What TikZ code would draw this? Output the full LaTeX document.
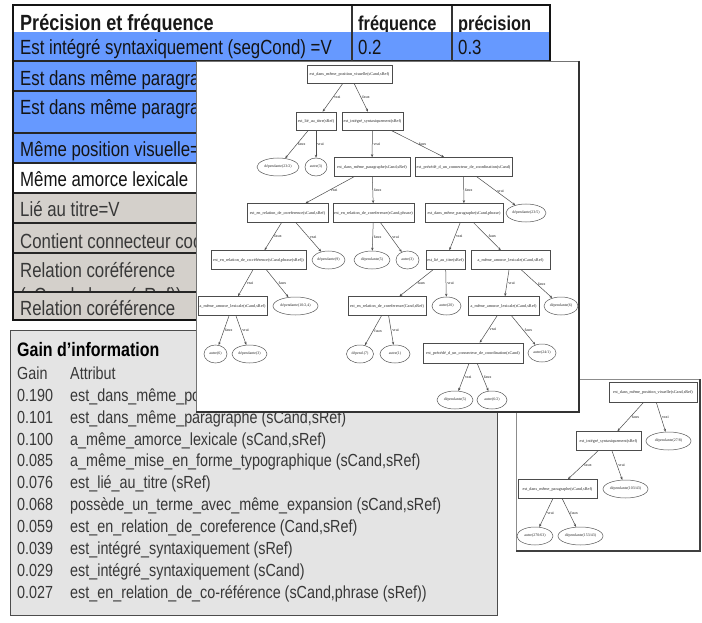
\documentclass[tikz,border=0pt]{standalone}
\usepackage{fontspec}
\setmainfont{Liberation Sans}
\newfontfamily\narrow[FakeStretch=0.82]{Liberation Sans}
\newfontfamily\treefont{Liberation Serif}
\usetikzlibrary{arrows.meta,shapes.geometric}
\definecolor{tblue}{RGB}{102,153,255}
\definecolor{tgray}{RGB}{212,208,203}
\definecolor{gainbg}{RGB}{228,228,228}
\tikzset{
  hdr/.style={anchor=base west, inner sep=0pt, text=black!90, font=\narrow\bfseries\fontsize{20}{24}\selectfont},
  rowtxt/.style={anchor=base west, inner sep=0pt, text=black!92, font=\narrow\fontsize{20.5}{24}\selectfont},
  rowtxtg/.style={rowtxt, text=black!78},
  rowline/.style={draw=black!85, line width=1.4pt},
  gaintitle/.style={anchor=base west, inner sep=0pt, text=black, font=\narrow\bfseries\fontsize{19.5}{22}\selectfont},
  gaintxt/.style={anchor=base west, inner sep=0pt, text=black!78, font=\narrow\fontsize{17.5}{20}\selectfont},
  tbox/.style={draw=black!70, line width=0.6pt, fill=white, rectangle, inner xsep=0.8pt, inner ysep=0pt,
    minimum height=19pt, font=\treefont\fontsize{4.2}{4.5}\selectfont, text=black!85},
  tleaf/.style={draw=black!65, line width=0.5pt, fill=white, ellipse, inner sep=0pt,
    minimum height=18pt, font=\treefont\fontsize{3.9}{4.2}\selectfont, text=black!85},
  tedge/.style={draw=black!70, line width=0.5pt, -{Stealth[length=3pt,width=2.4pt]}},
  elbl/.style={right, inner sep=1pt, font=\treefont\fontsize{4.2}{4.5}\selectfont, text=black!85}
}
\begin{document}
\begin{tikzpicture}[x=1pt,y=-1pt]
\useasboundingbox (0,0) rectangle (702,623);
\fill[white] (0,0) rectangle (702,623);

% ---------------- table ----------------
\fill[white] (13,5) rectangle (550,32);
\node[hdr, font=\narrow\bfseries\fontsize{22}{24}\selectfont] (h0) at (20,31) {Précision et fréquence};
\node[hdr] (h1) at (358,31) {fréquence};
\node[hdr] (h2) at (458,31) {précision};
\fill[tblue] (13,32) rectangle (550,163);
\fill[white] (13,163) rectangle (550,193);
\fill[tgray] (13,193) rectangle (550,320);
\node[rowtxt] (r1) at (20,55) {Est intégré syntaxiquement (segCond) =V};
\node[rowtxt] (r1f) at (358,55) {0.2};
\node[rowtxt] (r1p) at (458,55) {0.3};
\node[rowtxt] (r2) at (20,86) {Est dans même paragra};
\node[rowtxt] (r3) at (20,115) {Est dans même paragra};
\node[rowtxt] (r4) at (20,157) {Même position visuelle=};
\node[rowtxt] (r5) at (20,187) {Même amorce lexicale};
\node[rowtxtg] (r6) at (20,217) {Lié au titre=V};
\node[rowtxtg] (r7) at (20,248) {Contient connecteur coo};
\node[rowtxtg] (r8) at (20,277) {Relation coréférence};
\begin{scope}
  \clip (13,253) rectangle (196,291);
  \node[rowtxtg] (r8b) at (20,302) {(sCand,phrase(sRef))};
\end{scope}
\node[rowtxtg] (r9) at (20,315) {Relation coréférence};
\foreach \yy in {61,91,133,163,193,223,253,292}
  \draw[rowline] (13,\yy) -- (550,\yy);
\draw[black!80, line width=1.1pt] (352,5) -- (352,61) (452,5) -- (452,61);
\draw[black!92, line width=1.8pt] (13,5) rectangle (550,320);

% ---------------- gain box ----------------
\draw[fill=gainbg, draw=black!70, line width=0.9pt] (10,330) rectangle (497,615);
\node[gaintitle] (g0) at (17,356) {Gain d’information};
\node[gaintxt] (gh1) at (17,379) {Gain};
\node[gaintxt] (gh2) at (70,379) {Attribut};
\node[gaintxt] (ga1) at (17,401) {0.190};
\node[gaintxt] (gb1) at (70,401) {est\_dans\_même\_po};
\node[gaintxt] (ga2) at (17,423) {0.101};
\node[gaintxt] (gb2) at (70,423) {est\_dans\_même\_paragraphe (sCand,sRef)};
\node[gaintxt] (ga3) at (17,445) {0.100};
\node[gaintxt] (gb3) at (70,445) {a\_même\_amorce\_lexicale (sCand,sRef)};
\node[gaintxt] (ga4) at (17,466.5) {0.085};
\node[gaintxt] (gb4) at (70,466.5) {a\_même\_mise\_en\_forme\_typographique (sCand,sRef)};
\node[gaintxt] (ga5) at (17,488.5) {0.076};
\node[gaintxt] (gb5) at (70,488.5) {est\_lié\_au\_titre (sRef)};
\node[gaintxt] (ga6) at (17,510.5) {0.068};
\node[gaintxt] (gb6) at (70,510.5) {possède\_un\_terme\_avec\_même\_expansion (sCand,sRef)};
\node[gaintxt] (ga7) at (17,532) {0.059};
\node[gaintxt] (gb7) at (70,532) {est\_en\_relation\_de\_coreference (Cand,sRef)};
\node[gaintxt] (ga8) at (17,554) {0.039};
\node[gaintxt] (gb8) at (70,554) {est\_intégré\_syntaxiquement (sRef)};
\node[gaintxt] (ga9) at (17,576) {0.029};
\node[gaintxt] (gb9) at (70,576) {est\_intégré\_syntaxiquement (sCand)};
\node[gaintxt] (ga10) at (17,598) {0.027};
\node[gaintxt] (gb10) at (70,598) {est\_en\_relation\_de\_co-référence (sCand,phrase (sRef))};

% ---------------- small tree ----------------
\fill[white] (516,379) rectangle (700,551);
\draw[black!45, line width=0.6pt] (516,551) -- (516,379) -- (700,379);
\draw[black!75, line width=1.4pt] (700,379) -- (700,551) -- (516,551);
\node[tbox, minimum width=88pt, minimum height=20pt] (s0) at (653,392) {est\_dans\_même\_position\_visuelle(sCand,sRef)};
\node[tbox, minimum width=65pt] (s1) at (608.5,441) {est\_intégré\_syntaxiquement(sRef)};
\node[tleaf, minimum width=45pt] (s2) at (668.5,441) {dépendante(27/8)};
\node[tbox, minimum width=79pt] (s3) at (557.5,489) {est\_dans\_même\_paragraphe(sCand,sRef)};
\node[tleaf, minimum width=45pt] (s4) at (625.5,489) {dépendante(103/43)};
\node[tleaf, minimum width=36pt] (s5) at (535,536) {autre(270/63)};
\node[tleaf, minimum width=45pt] (s6) at (580.5,536) {dépendante(153/43)};
\draw[tedge] (s0) -- node[elbl]{faux} (s1);
\draw[tedge] (s0) -- node[elbl]{vrai} (s2);
\draw[tedge] (s1) -- node[elbl]{faux} (s3);
\draw[tedge] (s1) -- node[elbl]{vrai} (s4);
\draw[tedge] (s3) -- node[elbl]{vrai} (s5);
\draw[tedge] (s3) -- node[elbl]{faux} (s6);

% ---------------- big tree ----------------
\fill[white] (196,61) rectangle (579,412);
\draw[black!55, line width=0.7pt] (196,412) -- (196,61) -- (579,61);
\draw[black!80, line width=1.4pt] (579,61) -- (579,412) -- (196,412);

\node[tbox, minimum width=85pt, minimum height=18pt] (n0) at (349.5,74) {est\_dans\_même\_position\_visuelle(sCand,sRef)};
\node[tbox, minimum width=40pt, minimum height=18pt] (nA) at (316,121) {est\_lié\_au\_titre(sRef)};
\node[tbox, minimum width=61pt, minimum height=18pt] (nB) at (372.5,121) {est\_intégré\_syntaxiquement(sRef)};
\node[tleaf, minimum width=42pt] (nA1) at (278,167) {dépendante(23/2)};
\node[tleaf, minimum width=22pt] (nA2) at (316,167) {autre(3)};
\node[tbox, minimum width=76pt] (nB1) at (372,167) {est\_dans\_même\_paragraphe(sCand,sRef)};
\node[tbox, minimum width=97pt] (nB2) at (463.5,167) {est\_précédé\_d\_un\_connecteur\_de\_coordination(sCand)};
\node[tbox, minimum width=81pt] (nB1a) at (287.5,213) {est\_en\_relation\_de\_coreference(sCand,sRef)};
\node[tbox, minimum width=81pt] (nB1b) at (373.5,213) {est\_en\_relation\_de\_coreference(sCand,phrase)};
\node[tbox, minimum width=78pt] (nB2a) at (464,213) {est\_dans\_même\_paragraphe(sCand,phrase)};
\node[tleaf, minimum width=40pt] (nB2b) at (526,213) {dépendante(23/5)};
\node[tbox, minimum width=95pt] (nC1) at (258.5,260) {est\_en\_relation\_de\_co-référence(sCand,phrase(sRef))};
\node[tleaf, minimum width=33pt] (nC2) at (328.5,260) {dépendante(9)};
\node[tleaf, minimum width=36pt] (nC3) at (372,260) {dépendante(5)};
\node[tleaf, minimum width=23pt] (nC4) at (407.5,260) {autre(3)};
\node[tbox, minimum width=39pt] (nC5) at (445.5,260) {est\_lié\_au\_titre(sRef)};
\node[tbox, minimum width=79pt] (nC6) at (510.5,260) {a\_même\_amorce\_lexicale(sCand,sRef)};
\node[tbox, minimum width=69pt] (nD1) at (232.5,306) {a\_même\_amorce\_lexicale(sCand,sRef)};
\node[tleaf, minimum width=45pt] (nD2) at (295.5,306) {dépendante(10/2,4)};
\node[tbox, minimum width=78pt] (nD3) at (387,306) {est\_en\_relation\_de\_coreference(Cand,sRef)};
\node[tleaf, minimum width=29pt] (nD4) at (446.5,306) {autre(20)};
\node[tbox, minimum width=71pt] (nD5) at (503.5,306) {a\_même\_amorce\_lexicale(sCand,sRef)};
\node[tleaf, minimum width=34pt] (nD6) at (561,306) {dépendante(6)};
\node[tleaf, minimum width=23pt] (nE1) at (215.5,354) {autre(6)};
\node[tleaf, minimum width=35pt] (nE2) at (249.5,354) {dépendante(3)};
\node[tleaf, minimum width=27pt] (nE3) at (360,354) {dépend.(7)};
\node[tleaf, minimum width=30pt] (nE4) at (395,354) {autre(1)};
\node[tbox, minimum width=100pt, minimum height=20pt] (nE5) at (473,353) {est\_précédé\_d\_un\_connecteur\_de\_coordination(sCand)};
\node[tleaf, minimum width=28pt] (nE6) at (542,353) {autre(24/1)};
\node[tleaf, minimum width=36pt] (nF1) at (455,400) {dépendante(5)};
\node[tleaf, minimum width=30pt] (nF2) at (492,400) {autre(6/2)};

\draw[tedge] (n0) -- node[elbl]{vrai} (nA);
\draw[tedge] (n0) -- node[elbl]{faux} (nB);
\draw[tedge] (nA) -- node[elbl]{faux} (nA1);
\draw[tedge] (nA) -- node[elbl]{vrai} (nA2);
\draw[tedge] (nB) -- node[elbl]{vrai} (nB1);
\draw[tedge] (nB) -- node[elbl]{faux} (nB2);
\draw[tedge] (nB1) -- node[elbl]{vrai} (nB1a);
\draw[tedge] (nB1) -- node[elbl]{faux} (nB1b);
\draw[tedge] (nB2) -- node[elbl]{faux} (nB2a);
\draw[tedge] (nB2) -- node[elbl]{vrai} (nB2b);
\draw[tedge] (nB1a) -- node[elbl]{faux} (nC1);
\draw[tedge] (nB1a) -- node[elbl]{vrai} (nC2);
\draw[tedge] (nB1b) -- node[elbl]{faux} (nC3);
\draw[tedge] (nB1b) -- node[elbl]{vrai} (nC4);
\draw[tedge] (nB2a) -- node[elbl]{vrai} (nC5);
\draw[tedge] (nB2a) -- node[elbl]{faux} (nC6);
\draw[tedge] (nC1) -- node[elbl]{vrai} (nD1);
\draw[tedge] (nC1) -- node[elbl]{faux} (nD2);
\draw[tedge] (nC5) -- node[elbl]{faux} (nD3);
\draw[tedge] (nC5) -- node[elbl]{vrai} (nD4);
\draw[tedge] (nC6) -- node[elbl]{vrai} (nD5);
\draw[tedge] (nC6) -- node[elbl]{faux} (nD6);
\draw[tedge] (nD1) -- node[elbl]{faux} (nE1);
\draw[tedge] (nD1) -- node[elbl]{vrai} (nE2);
\draw[tedge] (nD3) -- node[elbl]{faux} (nE3);
\draw[tedge] (nD3) -- node[elbl]{vrai} (nE4);
\draw[tedge] (nD5) -- node[elbl]{vrai} (nE5);
\draw[tedge] (nD5) -- node[elbl]{faux} (nE6);
\draw[tedge] (nE5) -- node[elbl]{vrai} (nF1);
\draw[tedge] (nE5) -- node[elbl]{faux} (nF2);
\end{tikzpicture}
\end{document}
